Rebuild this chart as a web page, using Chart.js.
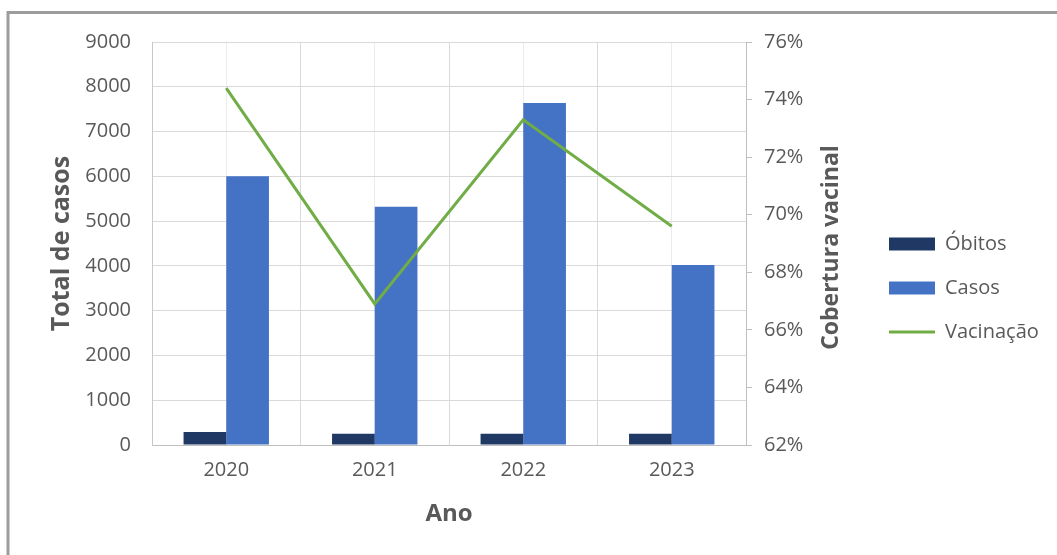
<!DOCTYPE html>
<html>
<head>
<meta charset="utf-8">
<script src="https://cdn.jsdelivr.net/npm/chart.js@4.4.1/dist/chart.umd.min.js"></script>
<style>
  html, body { margin: 0; padding: 0; background: #fff; }
</style>
</head>
<body>
<canvas id="chartCasos" width="1057" height="555"></canvas>
<script>
// dados
const anos = ['2020', '2021', '2022', '2023'];
const obitos = [290, 250, 250, 250];
const casos = [6000, 5320, 7640, 4020];
const vacinacao = [74.4, 66.9, 73.3, 69.6];   // em %

const limitesCasos = [0, 9000];
const passoCasos = 1000;
const limitesVacina = [62, 76];
const passoVacina = 2;

const tituloCasos = 'Total de casos';
const tituloVacina = 'Cobertura vacinal';
const tituloAno = 'Ano';

const cinza = '#595959';
Chart.defaults.font.family = "'Open Sans', sans-serif";
Chart.defaults.color = cinza;

// moldura cinza do grafico
const moldura = {
  id: 'moldura',
  beforeDraw(chart) {
    const ctx = chart.ctx;
    ctx.save();
    ctx.fillStyle = '#fff';
    ctx.fillRect(0, 0, chart.width, chart.height);
    ctx.strokeStyle = '#9c9c9c';
    ctx.lineWidth = 3;
    ctx.beginPath();
    ctx.moveTo(8, chart.height);
    ctx.lineTo(8, 12.5);
    ctx.lineTo(chart.width, 12.5);
    ctx.stroke();
    ctx.restore();
  }
};

// titulo do eixo direito, lido de baixo para cima
const tituloDireita = {
  id: 'tituloDireita',
  afterDraw(chart) {
    const ctx = chart.ctx;
    const s = chart.scales.y1;
    const a = chart.chartArea;
    ctx.save();
    ctx.translate(s.right - 34, (a.top + a.bottom) / 2 + 4);
    ctx.rotate(-Math.PI / 2);
    ctx.textAlign = 'center';
    ctx.textBaseline = 'middle';
    ctx.font = "bold 23px 'Open Sans', sans-serif";
    ctx.fillStyle = cinza;
    ctx.fillText(tituloVacina, 0, 0);
    ctx.restore();
  }
};

const data = {
  labels: anos,
  datasets: [{
    label: 'Óbitos',
    data: obitos,
    backgroundColor: '#203864',
    borderWidth: 0,
    categoryPercentage: 0.575,
    barPercentage: 1,
    order: 1
  }, {
    label: 'Casos',
    data: casos,
    backgroundColor: '#4472c4',
    borderWidth: 0,
    categoryPercentage: 0.575,
    barPercentage: 1,
    order: 1
  }, {
    type: 'line',
    label: 'Vacinação',
    data: vacinacao,
    yAxisID: 'y1',
    borderColor: '#70ad47',
    backgroundColor: '#70ad47',
    borderWidth: 3,
    pointRadius: 0,
    tension: 0,
    order: 0
  }]
};

const config = {
  type: 'bar',
  data: data,
  options: {
    responsive: false,
    animation: false,
    devicePixelRatio: 1,
    layout: { padding: { left: 0, top: 42, right: 19, bottom: 21 } },
    plugins: {
      tooltip: { enabled: false },
      legend: {
        display: true,
        position: 'right',
        labels: {
          usePointStyle: true,
          pointStyleWidth: 46,
          boxHeight: 13,
          padding: 24,
          color: cinza,
          font: { size: 20 },
          sort: (a, b) => a.datasetIndex - b.datasetIndex,
          generateLabels(chart) {
            const items = Chart.defaults.plugins.legend.labels.generateLabels(chart);
            items.forEach(it => {
              const ds = chart.data.datasets[it.datasetIndex];
              it.pointStyle = ds.type === 'line' ? 'line' : 'rect';
              it.lineWidth = ds.type === 'line' ? 3 : 0;
            });
            return items;
          }
        }
      }
    },
    scales: {
      x: {
        offset: true,
        grid: { offset: true, color: '#d9d9d9', drawTicks: false },
        border: { color: '#bfbfbf' },
        ticks: { padding: 13, font: { size: 20 }, color: cinza },
        title: {
          display: true,
          text: tituloAno,
          color: cinza,
          font: { size: 24, weight: 'bold' },
          padding: { top: 4, bottom: 5 }
        },
        afterFit(scale) { scale.height = 89; }
      },
      xc: {
        type: 'category',
        position: 'top',
        offset: true,
        grid: { offset: false, color: '#ececec', drawTicks: false },
        border: { display: false },
        ticks: { display: false },
        afterFit(scale) { scale.height = 0; }
      },
      y: {
        position: 'left',
        min: limitesCasos[0],
        max: limitesCasos[1],
        ticks: {
          stepSize: passoCasos,
          padding: 21,
          font: { size: 20 },
          color: cinza,
          callback: v => String(v)
        },
        grid: { color: '#d9d9d9', drawTicks: false },
        border: { color: '#c8c8c8' },
        title: {
          display: true,
          text: tituloCasos,
          color: cinza,
          font: { size: 25, weight: 'bold' },
          padding: { top: 47, bottom: 0 }
        },
        afterFit(scale) { scale.width = 152; }
      },
      y1: {
        position: 'right',
        min: limitesVacina[0],
        max: limitesVacina[1],
        ticks: {
          stepSize: passoVacina,
          padding: 12,
          font: { size: 20 },
          color: cinza,
          callback: v => v + '%'
        },
        grid: { drawOnChartArea: false, color: '#bfbfbf', tickLength: 6 },
        border: { color: '#bfbfbf' },
        afterFit(scale) { scale.width = 119; }
      }
    }
  },
  plugins: [moldura, tituloDireita]
};

const node = document.getElementById('chartCasos');
const chartCasos = new Chart(node, config);
</script>
</body>
</html>
